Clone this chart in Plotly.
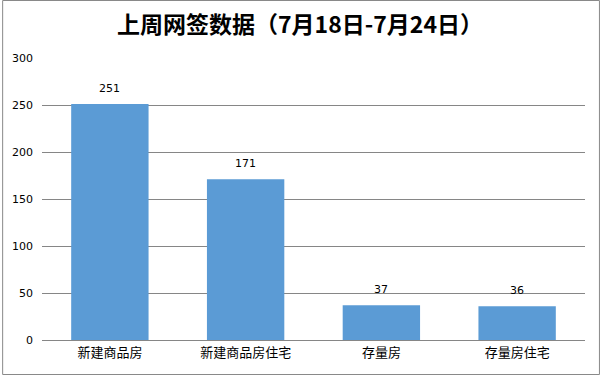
import plotly.graph_objects as go

categories = ["新建商品房", "新建商品房住宅", "存量房", "存量房住宅"]
values = [251, 171, 37, 36]
y_ticks = [0, 50, 100, 150, 200, 250, 300]

W, H = 600, 375
L, R, T, B = 40, 15, 58, 35
pw, ph = W - L - R, H - T - B

def px_to_paper_x(x):
    return (x - L) / pw

def px_to_paper_y(y):
    return (H - B - y) / ph

fig = go.Figure()
fig.add_trace(go.Bar(
    x=categories, y=values,
    marker=dict(color="#5B9BD5", line=dict(width=0)),
    hoverinfo="skip",
))

for c, v in zip(categories, values):
    fig.add_annotation(
        x=c, y=v, text=str(v), showarrow=False,
        yanchor="bottom", yshift=7,
        font=dict(family="DejaVu Sans, Verdana, sans-serif", size=11, color="#000000"),
    )

fig.update_layout(
    width=W, height=H,
    margin=dict(l=L, r=R, t=T, b=B),
    paper_bgcolor="white", plot_bgcolor="white",
    bargap=0.43,
    showlegend=False,
    title=dict(
        text="<b>上周网签数据（7月18日-7月24日）</b>",
        x=0.5, xanchor="center", y=1 - 25 / H, yanchor="middle",
        font=dict(family="Noto Sans CJK SC", size=23, color="#000000"),
    ),
    font=dict(family="Noto Sans CJK SC", size=11, color="#000000"),
    xaxis=dict(
        showline=True, linecolor="#868686", linewidth=1,
        ticks="", tickfont=dict(family="Noto Sans CJK SC", size=13, color="#000000"),
        showgrid=False,
    ),
    yaxis=dict(
        range=[0, 300], tickvals=y_ticks, showline=False,
        showgrid=True, gridcolor="#868686", gridwidth=1,
        zeroline=False, ticks="", ticklabelstandoff=8,
        tickfont=dict(family="DejaVu Sans, Verdana, sans-serif", size=11, color="#000000"),
    ),
    shapes=[dict(
        type="rect", xref="paper", yref="paper",
        x0=px_to_paper_x(0.5), x1=px_to_paper_x(W - 0.5),
        y0=px_to_paper_y(H - 0.5), y1=px_to_paper_y(0.5),
        line=dict(color="#898989", width=1), fillcolor="rgba(0,0,0,0)",
        layer="above",
    )],
)

fig.write_html(
    "out.html",
    config={"displayModeBar": False},
    post_script="document.body.style.margin='0';document.body.style.padding='0';document.body.style.overflow='hidden';",
)
